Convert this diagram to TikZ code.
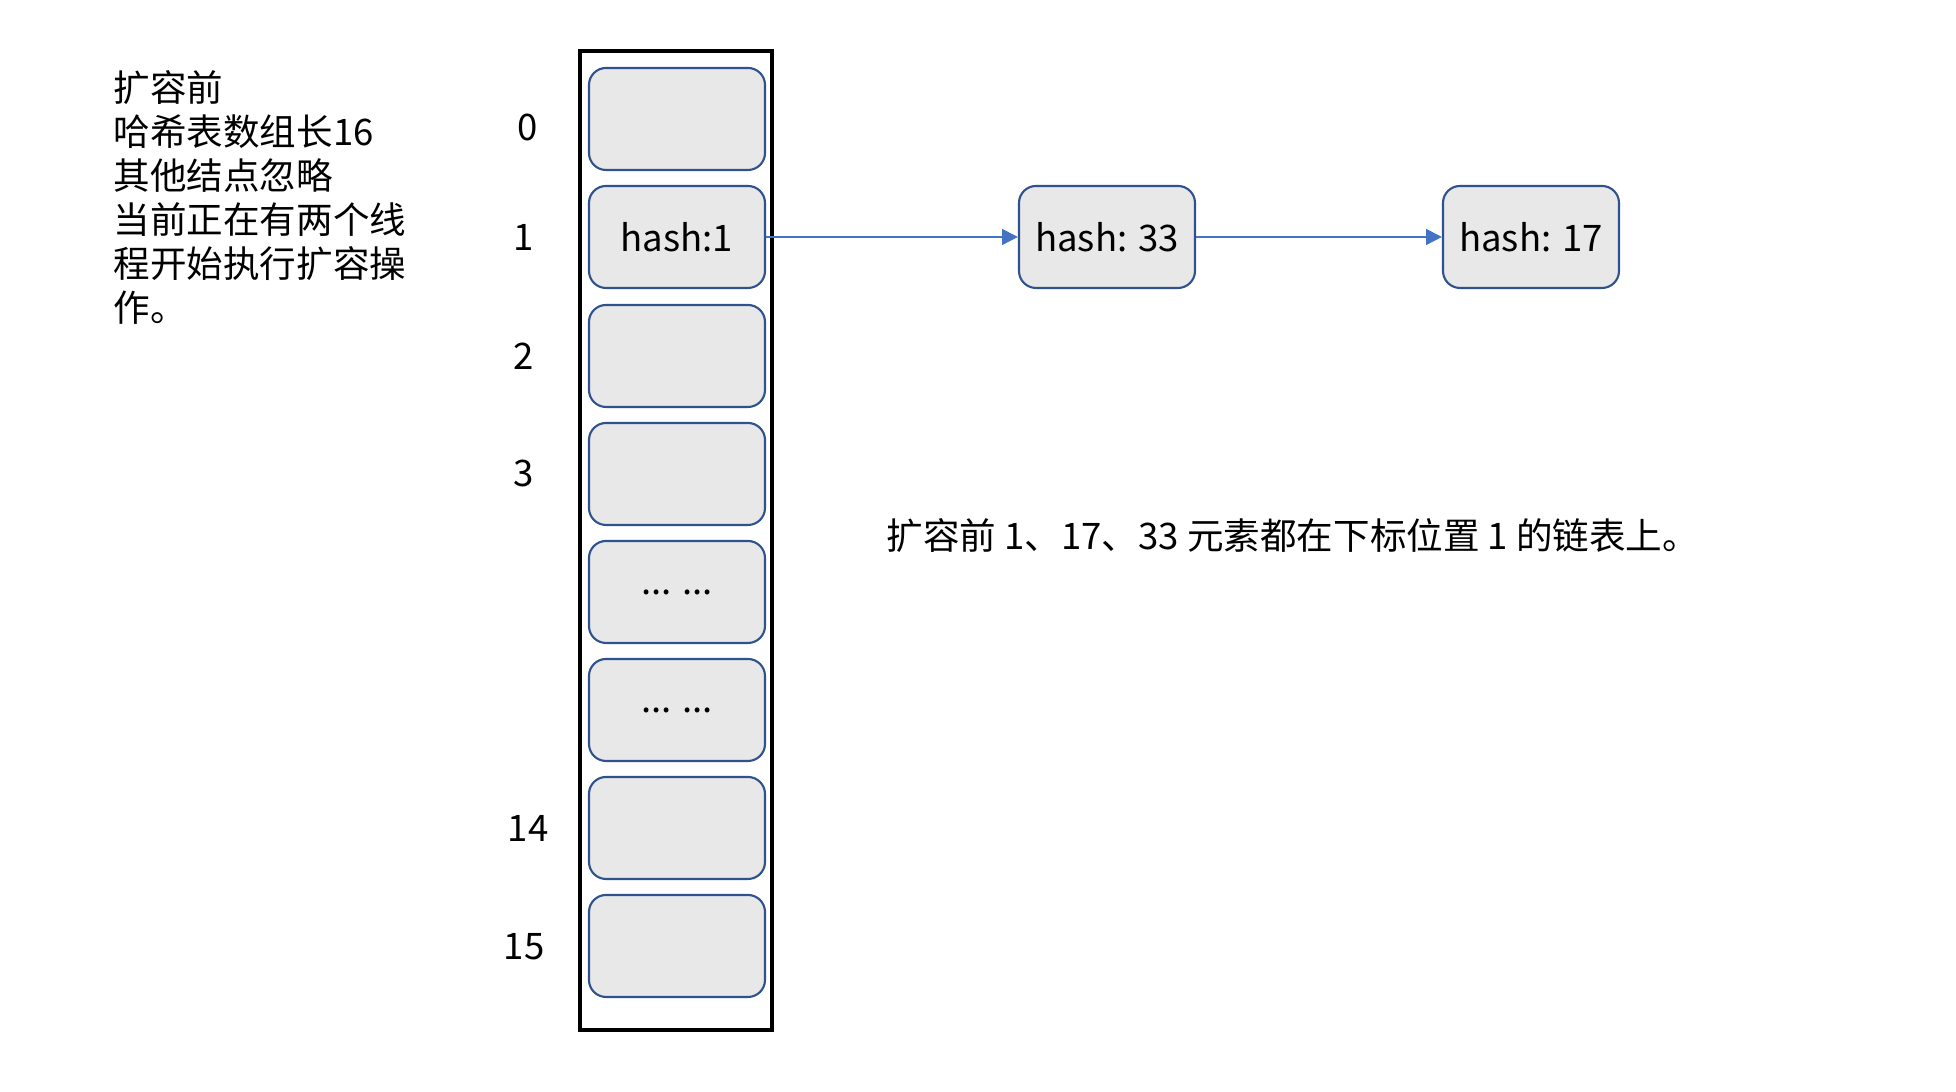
\documentclass[tikz,border=0pt]{standalone}
\usepackage{fontspec}
\setmainfont{Noto Sans CJK SC}
\usepackage{tikz}
\usetikzlibrary{positioning}
\usetikzlibrary{arrows.meta}
\definecolor{slotblue}{HTML}{2F528F}
\definecolor{linkblue}{HTML}{4472C4}
\definecolor{slotgray}{HTML}{E8E8E8}

\begin{document}
\begin{tikzpicture}[font=\fontsize{10.4pt}{12.5pt}\selectfont,
		slot/.style={draw=slotblue, fill=slotgray, line width=0.6pt, rounded corners=0.17cm, minimum width=1.76cm, minimum height=1.02cm, inner sep=0pt},
		idx/.style={inner sep=0pt},
		link/.style={draw=linkblue, line width=0.5pt, -{Triangle[length=4.5pt,width=4.5pt]}}]
		\useasboundingbox (0,0) rectangle (19.56,10.92);
		%\draw[thin, gray!25] (0,0) grid (19,10);
		\node[draw, line width=1.1pt, minimum width=1.92cm, minimum height=9.79cm, inner sep=0pt] (table) at (6.76,5.515) {};
		\node[slot] (slot0) at (6.77,9.73) {};
		\node[slot] (slot1) at (6.77,8.55) {hash:1};
		\node[slot] (slot2) at (6.77,7.36) {};
		\node[slot] (slot3) at (6.77,6.18) {};
		\node[slot] (dots1) at (6.77,5.00) {... ...};
		\node[slot] (dots2) at (6.77,3.82) {... ...};
		\node[slot] (slot14) at (6.77,2.64) {};
		\node[slot] (slot15) at (6.77,1.46) {};
		\node[idx] (i0) at (5.28,9.65) {0};
		\node[idx] (i1) at (5.24,8.55) {1};
		\node[idx] (i2) at (5.24,7.36) {2};
		\node[idx] (i3) at (5.24,6.19) {3};
		\node[idx] (i14) at (5.28,2.64) {14};
		\node[idx] (i15) at (5.24,1.45) {15};
		\node[slot] (h33) at (11.07,8.55) {hash: 33};
		\node[slot] (h17) at (15.31,8.55) {hash: 17};
		\draw[link] (slot1) -- (h33);
		\draw[link] (h33) -- (h17);
		\node[anchor=north west, align=left, inner sep=0pt] (note) at (1.13,10.22) {扩容前\\哈希表数组长16\\其他结点忽略\\当前正在有两个线\\程开始执行扩容操\\作。};
		\node[anchor=west, inner sep=0pt] (desc) at (8.86,5.56) {扩容前 1、17、33 元素都在下标位置 1 的链表上。};
	\end{tikzpicture}
\end{document}
